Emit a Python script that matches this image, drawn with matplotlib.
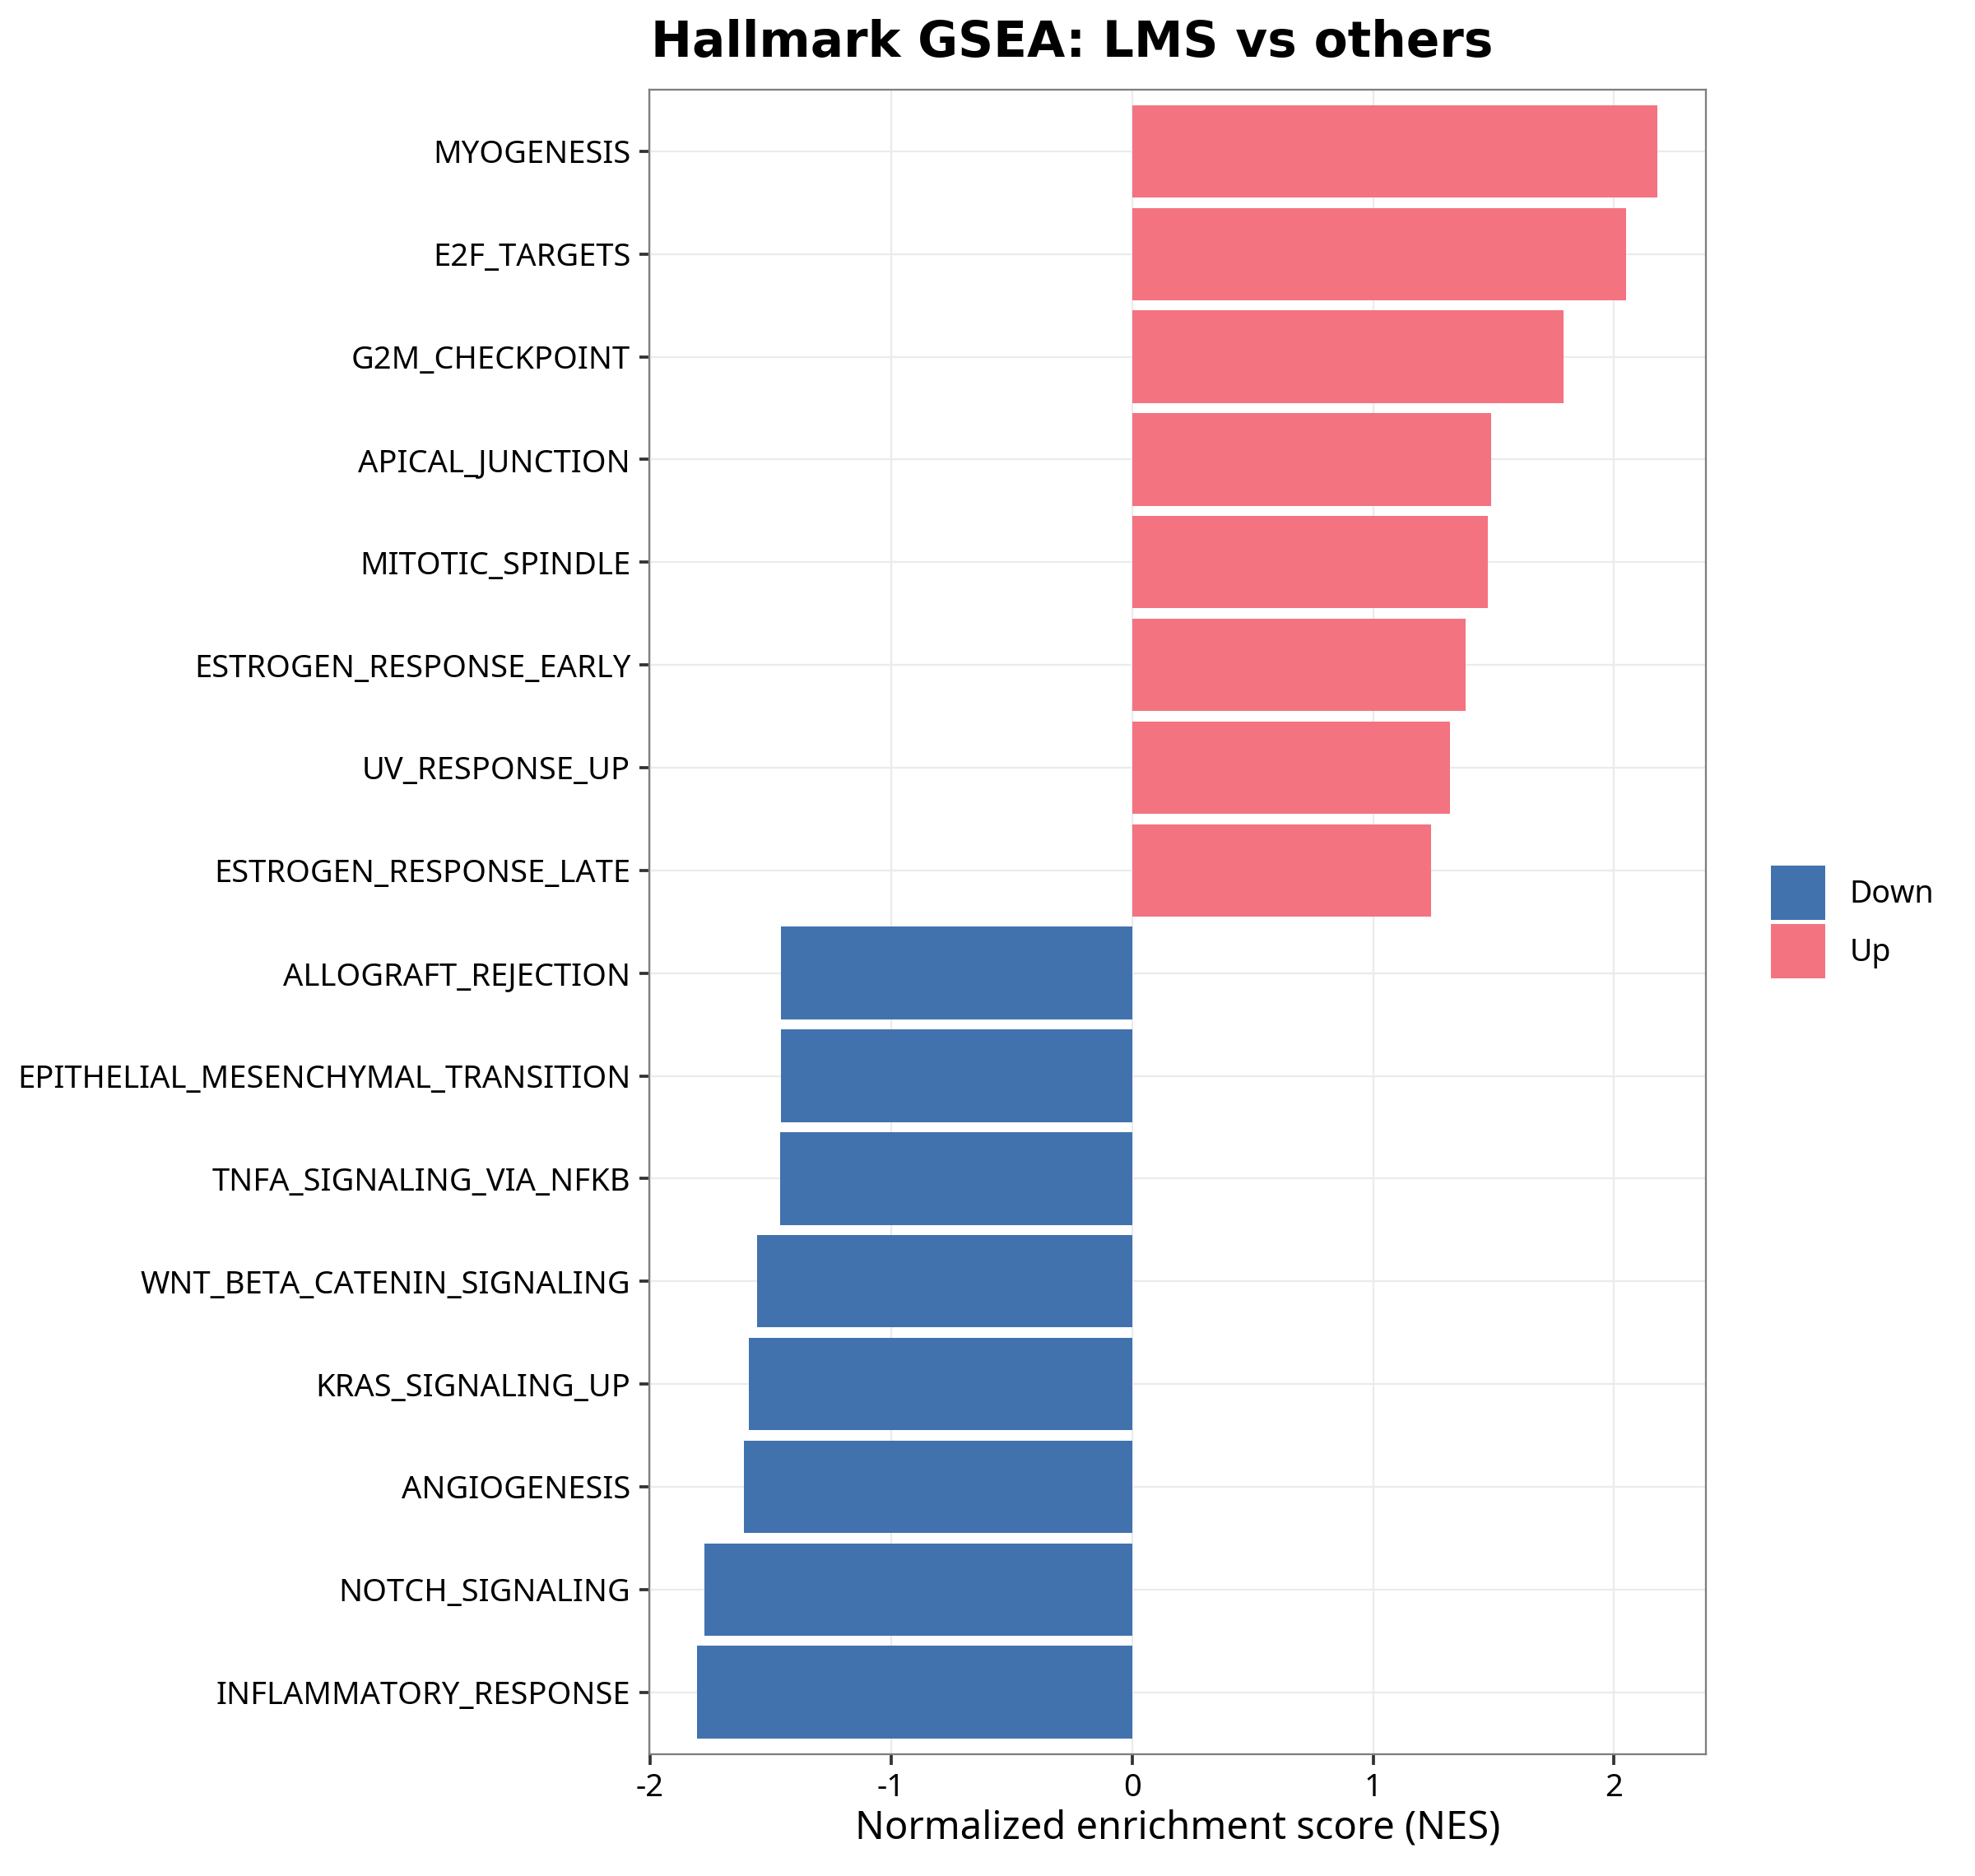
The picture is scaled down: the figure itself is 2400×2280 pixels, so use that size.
import matplotlib
matplotlib.use("Agg")
from matplotlib import pyplot as plt
from matplotlib.patches import Patch

# pathways, top to bottom
pathways = [
    "MYOGENESIS",
    "E2F_TARGETS",
    "G2M_CHECKPOINT",
    "APICAL_JUNCTION",
    "MITOTIC_SPINDLE",
    "ESTROGEN_RESPONSE_EARLY",
    "UV_RESPONSE_UP",
    "ESTROGEN_RESPONSE_LATE",
    "ALLOGRAFT_REJECTION",
    "EPITHELIAL_MESENCHYMAL_TRANSITION",
    "TNFA_SIGNALING_VIA_NFKB",
    "WNT_BETA_CATENIN_SIGNALING",
    "KRAS_SIGNALING_UP",
    "ANGIOGENESIS",
    "NOTCH_SIGNALING",
    "INFLAMMATORY_RESPONSE",
]
nes = [2.18, 2.05, 1.79, 1.49, 1.475, 1.385, 1.32, 1.24,
       -1.457, -1.457, -1.46, -1.556, -1.59, -1.61, -1.774, -1.805]
direction = ["Up" if v > 0 else "Down" for v in nes]

colors = {"Down": "#4172AE", "Up": "#F47381"}
tick_col = "#333333"

plt.rcParams["font.family"] = ["Noto Sans", "DejaVu Sans"]

W, H = 2400, 2280
fig = plt.figure(figsize=(8, 7.6), dpi=300)
ax_top, ax_bot = 109, 2131.5
ax = fig.add_axes([788.7 / W, 1 - ax_bot / H, (2073 - 788.7) / W, (ax_bot - ax_top) / H])

ax.barh(pathways, nes, height=0.9, color=[colors[d] for d in direction], zorder=2)

ax.set_xlim(-2.004, 2.381)
ax.set_ylim(len(pathways) - 0.4, -0.6)
ax.set_xticks([-2, -1, 0, 1, 2])
ax.set_xticklabels(["-2", "-1", "0", "1", "2"])

ax.grid(True, color="#EBEBEB", linewidth=0.55, zorder=0)
ax.set_axisbelow(True)
for s in ax.spines.values():
    s.set_color("#7F7F7F")
    s.set_linewidth(0.55)

ax.tick_params(axis="both", length=3, width=0.9, color=tick_col,
               labelsize=9.15, labelcolor="black", pad=2.4)

ax.set_xlabel("Normalized enrichment score (NES)", fontsize=11.3, va="baseline")
ax.xaxis.set_label_coords(0.5, (ax_bot - 2234) / (ax_bot - ax_top))

fig.text(791 / W, 1 - 69 / H, "Hallmark GSEA: LMS vs others",
         fontsize=14.35, fontweight="bold", family="DejaVu Sans",
         ha="left", va="baseline")

handles = [Patch(facecolor=colors["Down"], edgecolor="none"),
           Patch(facecolor=colors["Up"], edgecolor="none")]
fig.legend(handles, ["Down", "Up"], loc="center left",
           bbox_to_anchor=(2151.7 / W, 1 - 1120.5 / H),
           frameon=False, fontsize=9.0, handlelength=1.76, handleheight=2.33,
           handletextpad=0.8, labelspacing=0.13, borderpad=0, borderaxespad=0)

fig.savefig("out.png", dpi=300)
plt.close(fig)
